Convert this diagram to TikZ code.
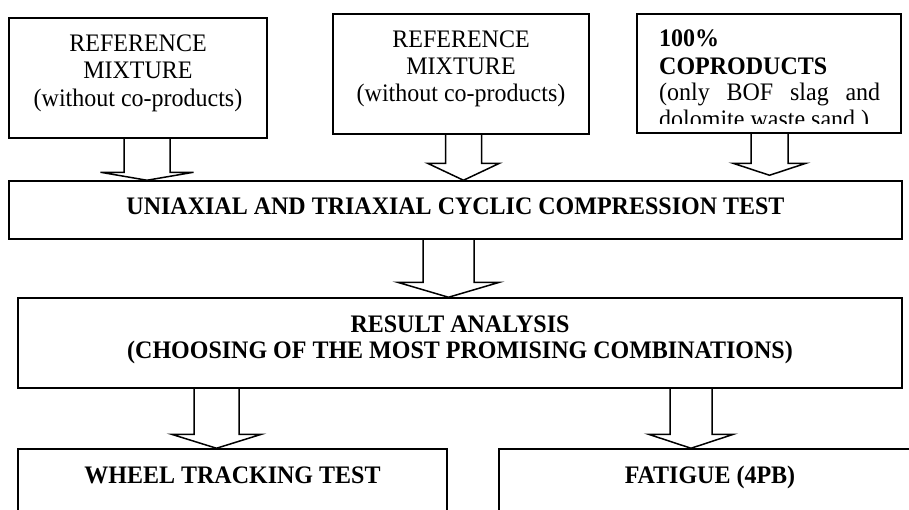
\documentclass[tikz,border=0pt]{standalone}
\usepackage{fontspec}
\setmainfont{Liberation Serif}
\usetikzlibrary{calc}
\tikzset{
  box/.style={draw, line width=1.5pt, inner sep=0pt, rectangle},
  txt/.style={inner sep=0pt, anchor=base, yscale=1.05, transform shape, font=\fontsize{24}{27}\selectfont},
  btxt/.style={inner sep=0pt, anchor=base, yscale=1.05, transform shape, font=\fontsize{24}{27}\selectfont\bfseries},
  barrow/.style={draw, line width=1.5pt, line join=miter}
}
\newcommand\blockarrow[7]{% from, to, centre x, shaft half width, head half width, head length, gap above target
  \draw[barrow] let \p1=(#1.south), \p2=(#2.north) in
    (#3-#4,\y1) -- (#3-#4,\y2+#6pt+#7pt) -- (#3-#5,\y2+#6pt+#7pt) -- (#3,\y2+#7pt)
    -- (#3+#5,\y2+#6pt+#7pt) -- (#3+#4,\y2+#6pt+#7pt) -- (#3+#4,\y1);
}
\begin{document}
\begin{tikzpicture}[x=1pt,y=-1pt]
\useasboundingbox (0,0) rectangle (909,509);
\clip (0,0) rectangle (909,509);

% boxes
\node[box, minimum width=258pt, minimum height=120pt] (b1) at (138,78) {};
\node[box, minimum width=256pt, minimum height=120pt] (b2) at (461,74) {};
\node[box, minimum width=264pt, minimum height=119pt] (b3) at (769,73.5) {};
\node[box, minimum width=893pt, minimum height=58pt] (test) at (455.5,210) {};
\node[box, minimum width=884pt, minimum height=90pt] (res) at (460,343) {};
\node[box, minimum width=429pt, minimum height=111pt] (wheel) at (232.5,504.5) {};
\node[box, minimum width=422pt, minimum height=111pt] (fat) at (710,504.5) {};

% texts
\node[txt] (t1a) at (138,51) {REFERENCE};
\node[txt] (t1b) at (138,78.5) {MIXTURE};
\node[txt] (t1c) at (138,106) {(without co-products)};

\node[txt] (t2a) at (461,47) {REFERENCE};
\node[txt] (t2b) at (461,74) {MIXTURE};
\node[txt] (t2c) at (461,101) {(without co-products)};

\node[btxt, anchor=base west] (t3a) at (659,46) {100\%};
\node[btxt, anchor=base west] (t3b) at (659,74) {COPRODUCTS};
\node[txt, anchor=base west] (t3c) at (659,100) {\hbox to 221pt{(only\hfill BOF\hfill slag\hfill and}};
\begin{scope}
  \clip (637,14) rectangle (901,123);
  \node[txt, anchor=base west] (t3d) at (659,127) {dolomite waste sand )};
\end{scope}

\node[btxt] (ttest) at (455.5,214) {UNIAXIAL AND TRIAXIAL CYCLIC COMPRESSION TEST};
\node[btxt] (tres1) at (460,332) {RESULT ANALYSIS};
\node[btxt] (tres2) at (460,358) {(CHOOSING OF THE MOST PROMISING COMBINATIONS)};
\node[btxt] (twheel) at (232.5,483) {WHEEL TRACKING TEST};
\node[btxt] (tfat) at (710,483) {FATIGUE (4PB)};

% block arrows
\blockarrow{b1}{test}{147}{23}{46.5}{8}{0}
\blockarrow{b2}{test}{463.5}{18}{36}{17}{0}
\blockarrow{b3}{test}{769.5}{18.5}{36.5}{12}{5}
\blockarrow{test}{res}{448.5}{25.5}{51}{15}{0}
\blockarrow{res}{wheel}{216.5}{22.5}{45}{14}{0}
\blockarrow{res}{fat}{691}{21}{42.5}{14}{0}
\end{tikzpicture}
\end{document}
